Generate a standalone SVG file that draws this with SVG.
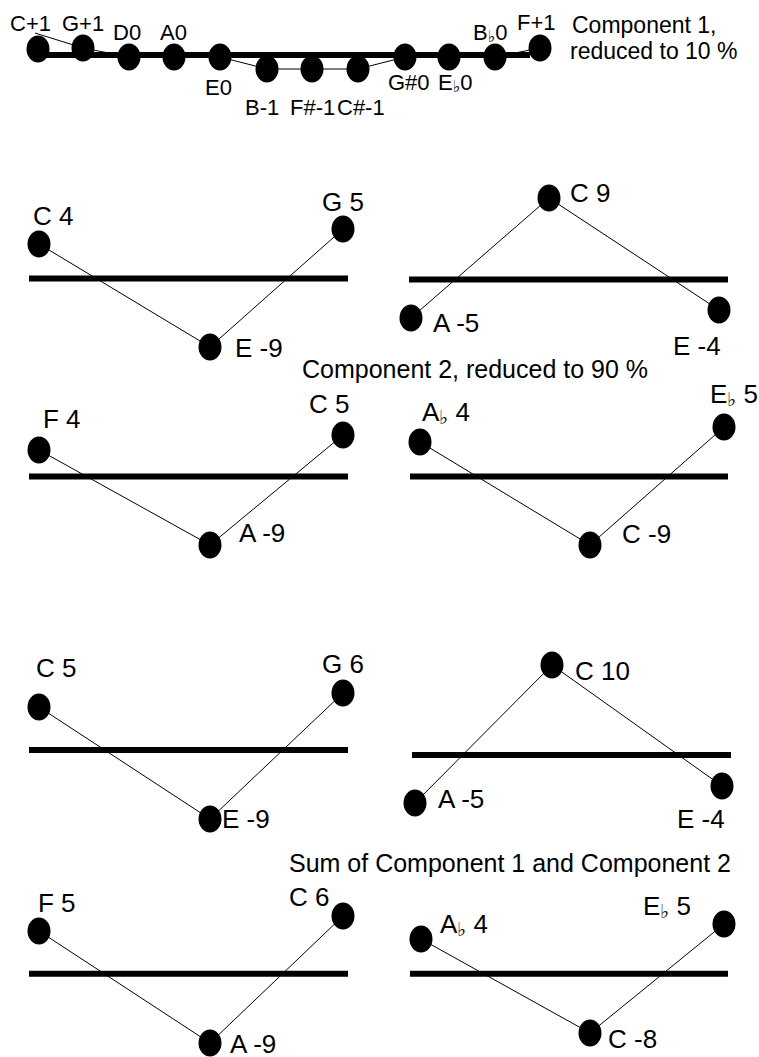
<svg xmlns="http://www.w3.org/2000/svg" width="759" height="1057" viewBox="0 0 759 1057">
<style>
.bg{fill:#fff}
.axis{stroke:#000;stroke-width:6;fill:none}
.link{stroke:#000;stroke-width:1;fill:none}
.dot{fill:#000}
.sm{font-family:"Liberation Sans",Arial,sans-serif;font-size:22px;fill:#000}
.lb{font-family:"Liberation Sans",Arial,sans-serif;font-size:26px;fill:#000}
.cap{font-family:"Liberation Sans",Arial,sans-serif;font-size:25px;fill:#000}
.cap1{font-family:"Liberation Sans",Arial,sans-serif;font-size:23px;fill:#000}
.fl{font-family:"DejaVu Sans",sans-serif;font-size:19px}
.fls{font-family:"DejaVu Sans",sans-serif;font-size:16px}
</style>
<defs>
<ellipse id="d" rx="11.5" ry="13.5" class="dot"/>
</defs>
<rect class="bg" x="0" y="0" width="759" height="1057"/>

<g id="axes">
<line class="axis" x1="38" y1="55" x2="530" y2="55"/>
<line class="axis" x1="29" y1="278.5" x2="348" y2="278.5"/>
<line class="axis" x1="409" y1="279.5" x2="728" y2="279.5"/>
<line class="axis" x1="29" y1="476.5" x2="348" y2="476.5"/>
<line class="axis" x1="410" y1="476.5" x2="728" y2="476.5"/>
<line class="axis" x1="29" y1="750" x2="348" y2="750"/>
<line class="axis" x1="412" y1="755" x2="731" y2="755"/>
<line class="axis" x1="29" y1="973.7" x2="348" y2="973.7"/>
<line class="axis" x1="410" y1="973.7" x2="728" y2="973.7"/>
</g>

<g id="connectors">
<polyline class="link" points="35,33 83,48 129,57 174,57 220,57 267,69 312,69 358,69 405,57 449,57 495,57 540,48"/>
<polyline class="link" points="39,244 210,347 343,229"/>
<polyline class="link" points="411,318 549,198 719,310"/>
<polyline class="link" points="39,450 210,545 343,435"/>
<polyline class="link" points="420,442 590,545 724,427"/>
<polyline class="link" points="39,707 210,819 343,693"/>
<polyline class="link" points="415,803 552,665 722,786"/>
<polyline class="link" points="39,931 210,1043 343,916"/>
<polyline class="link" points="421,939 590,1033 724,924"/>
</g>

<g id="component1">
<g id="n-c1"><use href="#d" x="38" y="49"/><text class="sm" x="10" y="31">C+1</text></g>
<g id="n-g1"><use href="#d" x="83" y="48"/><text class="sm" x="62" y="31">G+1</text></g>
<g id="n-d0"><use href="#d" x="129" y="57"/><text class="sm" x="113" y="40">D0</text></g>
<g id="n-a0"><use href="#d" x="174" y="57"/><text class="sm" x="160" y="40">A0</text></g>
<g id="n-e0"><use href="#d" x="220" y="57"/><text class="sm" x="205" y="95">E0</text></g>
<g id="n-b-1"><use href="#d" x="267" y="69"/><text class="sm" x="245" y="115">B-1</text></g>
<g id="n-fs-1"><use href="#d" x="312" y="69"/><text class="sm" x="290" y="115">F#-1</text></g>
<g id="n-cs-1"><use href="#d" x="358" y="69"/><text class="sm" x="337" y="115">C#-1</text></g>
<g id="n-gs0"><use href="#d" x="405" y="57"/><text class="sm" x="388" y="90">G#0</text></g>
<g id="n-eb0"><use href="#d" x="449" y="57"/><text class="sm" x="438" y="90">E<tspan class="fls" dy="2">♭</tspan><tspan dy="-2">0</tspan></text></g>
<g id="n-bb0"><use href="#d" x="495" y="57"/><text class="sm" x="473" y="40">B<tspan class="fls" dy="2">♭</tspan><tspan dy="-2">0</tspan></text></g>
<g id="n-f1"><use href="#d" x="540" y="48"/><text class="sm" x="517" y="30">F+1</text></g>
<text class="cap1" x="572" y="33">Component 1,</text>
<text class="cap1" x="570" y="59">reduced to 10 %</text>
</g>

<g id="p1">
<g id="p1-c4"><use href="#d" x="39" y="244"/><text class="lb" x="33" y="225">C 4</text></g>
<g id="p1-e-9"><use href="#d" x="210" y="347"/><text class="lb" x="235" y="357">E -9</text></g>
<g id="p1-g5"><use href="#d" x="343" y="229"/><text class="lb" x="322" y="211">G 5</text></g>
</g>
<g id="p2">
<g id="p2-a-5"><use href="#d" x="411" y="318"/><text class="lb" x="433" y="332">A -5</text></g>
<g id="p2-c9"><use href="#d" x="549" y="198"/><text class="lb" x="570" y="202">C 9</text></g>
<g id="p2-e-4"><use href="#d" x="719" y="310"/><text class="lb" x="673" y="355">E -4</text></g>
</g>
<text class="cap" x="302" y="378">Component 2, reduced to 90 %</text>
<g id="p3">
<g id="p3-f4"><use href="#d" x="39" y="450"/><text class="lb" x="43" y="428">F 4</text></g>
<g id="p3-a-9"><use href="#d" x="210" y="545"/><text class="lb" x="239" y="542">A -9</text></g>
<g id="p3-c5"><use href="#d" x="343" y="435"/><text class="lb" x="309" y="413">C 5</text></g>
</g>
<g id="p4">
<g id="p4-ab4"><use href="#d" x="420" y="442"/><text class="lb" x="422" y="421">A<tspan class="fl" dy="3">♭</tspan><tspan dy="-3"> 4</tspan></text></g>
<g id="p4-c-9"><use href="#d" x="590" y="545"/><text class="lb" x="622" y="543">C -9</text></g>
<g id="p4-eb5"><use href="#d" x="724" y="427"/><text class="lb" x="710" y="403">E<tspan class="fl" dy="3">♭</tspan><tspan dy="-3"> 5</tspan></text></g>
</g>

<g id="p5">
<g id="p5-c5"><use href="#d" x="39" y="707"/><text class="lb" x="36" y="677">C 5</text></g>
<g id="p5-e-9"><use href="#d" x="210" y="819"/><text class="lb" x="222" y="828">E -9</text></g>
<g id="p5-g6"><use href="#d" x="343" y="693"/><text class="lb" x="322" y="673">G 6</text></g>
</g>
<g id="p6">
<g id="p6-a-5"><use href="#d" x="415" y="803"/><text class="lb" x="438" y="808">A -5</text></g>
<g id="p6-c10"><use href="#d" x="552" y="665"/><text class="lb" x="575" y="680">C 10</text></g>
<g id="p6-e-4"><use href="#d" x="722" y="786"/><text class="lb" x="677" y="828">E -4</text></g>
</g>
<text class="cap" x="289" y="872">Sum of Component 1 and Component 2</text>
<g id="p7">
<g id="p7-f5"><use href="#d" x="39" y="931"/><text class="lb" x="38" y="912">F 5</text></g>
<g id="p7-a-9"><use href="#d" x="210" y="1043"/><text class="lb" x="230" y="1053">A -9</text></g>
<g id="p7-c6"><use href="#d" x="343" y="916"/><text class="lb" x="289" y="906">C 6</text></g>
</g>
<g id="p8">
<g id="p8-ab4"><use href="#d" x="421" y="939"/><text class="lb" x="440" y="933">A<tspan class="fl" dy="3">♭</tspan><tspan dy="-3"> 4</tspan></text></g>
<g id="p8-c-8"><use href="#d" x="590" y="1033"/><text class="lb" x="608" y="1048">C -8</text></g>
<g id="p8-eb5"><use href="#d" x="724" y="924"/><text class="lb" x="643" y="915">E<tspan class="fl" dy="3">♭</tspan><tspan dy="-3"> 5</tspan></text></g>
</g>
</svg>
